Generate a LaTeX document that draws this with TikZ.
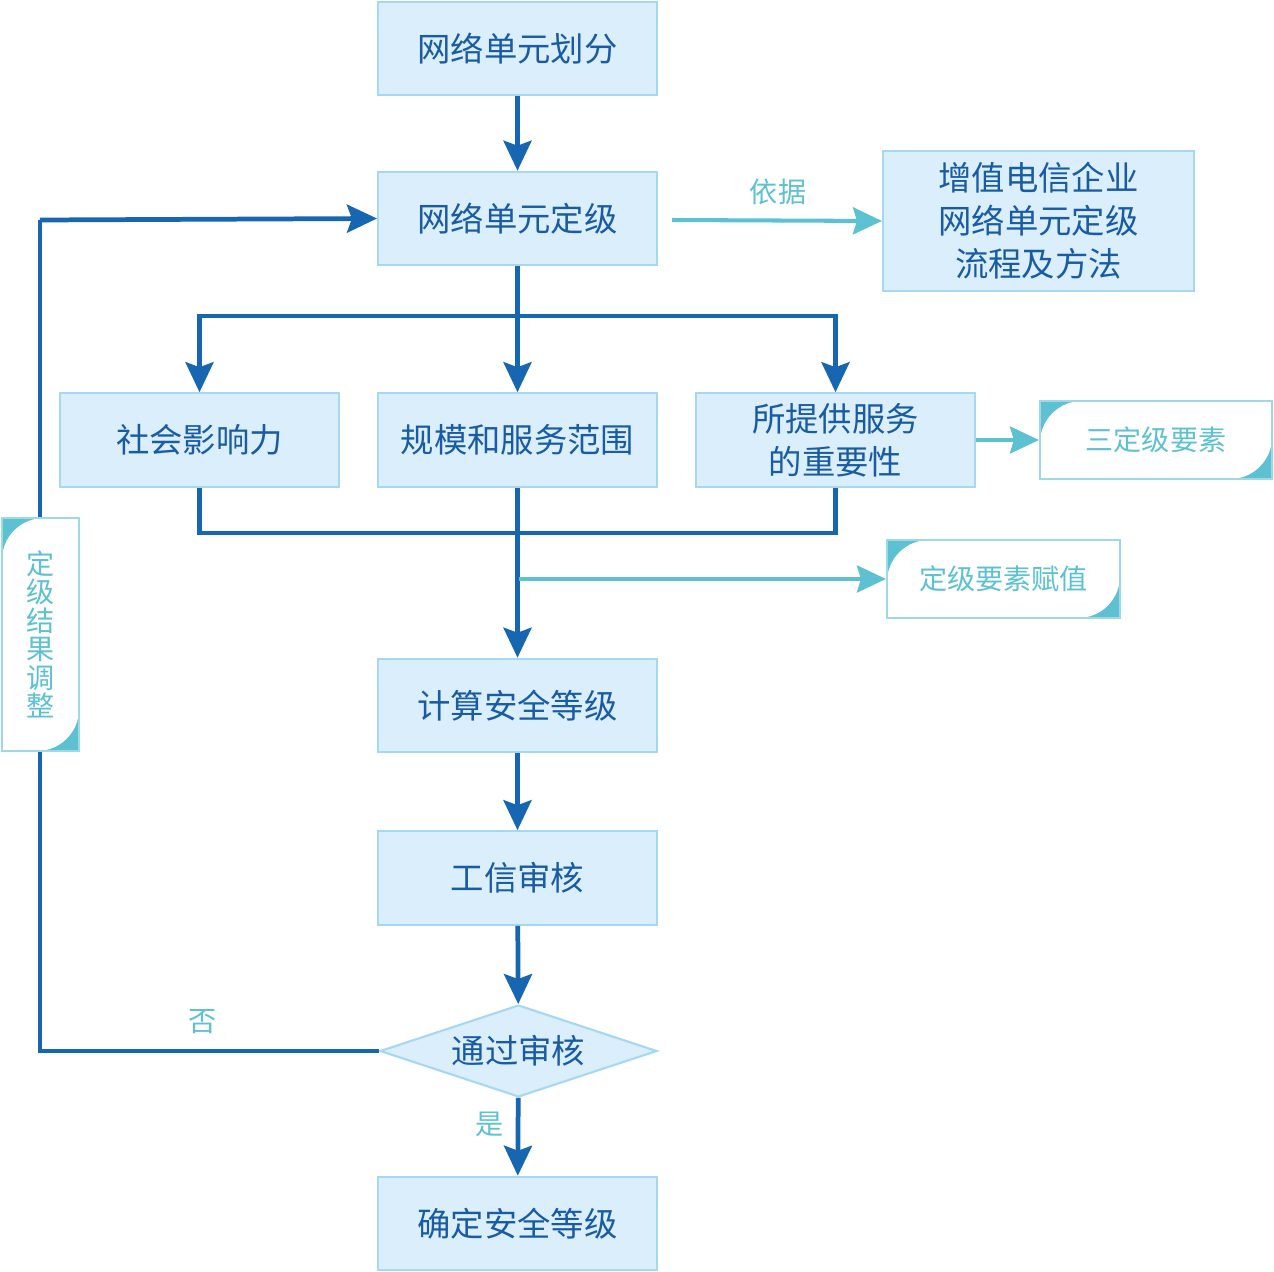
\documentclass[tikz,border=0pt]{standalone}
\usepackage{fontspec}
\setmainfont{Noto Sans CJK SC}
\usetikzlibrary{arrows.meta,shapes.geometric}
\definecolor{boxfill}{HTML}{DAEEFB}
\definecolor{boxdraw}{HTML}{A6D8F1}
\definecolor{darkline}{HTML}{1766B2}
\definecolor{darktext}{HTML}{1A5CA4}
\definecolor{tealc}{HTML}{5DC1D2}
\definecolor{tagdraw}{HTML}{9ED9E6}
\newcommand{\tagR}{0.84cm}
\tikzset{
  x=0.02cm, y=0.02cm,
  procbox/.style={rectangle, draw=boxdraw, line width=1.2pt, fill=boxfill, text=darktext,
    minimum width=5.58cm, minimum height=1.87cm, inner sep=0pt, align=center,
    font=\fontsize{19}{24.4}\selectfont},
  decbox/.style={diamond, aspect=3.01, draw=boxdraw, line width=1.2pt, fill=boxfill, text=darktext,
    minimum width=5.54cm, minimum height=1.84cm, inner sep=0pt,
    font=\fontsize{19}{24.4}\selectfont},
  tagbox/.style={rectangle, draw=tagdraw, line width=1.2pt, fill=tealc, text=tealc,
    inner sep=0pt, align=center, font=\fontsize{16}{16.2}\selectfont,
    path picture={\fill[white] (path picture bounding box.south west)
      -- ([yshift=-\tagR]path picture bounding box.north west)
      arc[start angle=180,end angle=90,radius=\tagR]
      -- (path picture bounding box.north east)
      -- ([yshift=\tagR]path picture bounding box.south east)
      arc[start angle=0,end angle=-90,radius=\tagR] -- cycle;}},
  darr/.style={draw=darkline, line width=2.7pt, -{Stealth[length=0.6cm,width=0.56cm,inset=0.1cm]}},
  dline/.style={draw=darkline, line width=2.7pt},
  tarr/.style={draw=tealc, line width=2.3pt, -{Stealth[length=0.58cm,width=0.54cm,inset=0.08cm]}},
  lab/.style={text=tealc, font=\fontsize{16}{18}\selectfont, inner sep=0pt},
}
\begin{document}
\begin{tikzpicture}
\useasboundingbox (0,0) rectangle (1274,-1271);
% nodes
\node[procbox] (hf) at (517.5,-48.5) {网络单元划分};
\node[procbox, minimum width=6.22cm, minimum height=2.8cm] (zz) at (1038.5,-221) {增值电信企业\\网络单元定级\\流程及方法};
\node[procbox] (dj) at (517.5,-218.5) {网络单元定级};
\node[procbox] (sh) at (199.5,-440) {社会影响力};
\node[procbox] (gm) at (517.5,-440) {规模和服务范围};
\node[procbox] (fw) at (835.5,-440) {所提供服务\\的重要性};
\node[tagbox, minimum width=4.64cm, minimum height=1.56cm] (sd) at (1156,-440) {三定级要素};
\node[tagbox, minimum width=4.66cm, minimum height=1.56cm] (fz) at (1003.5,-579) {定级要素赋值};
\node[procbox] (js) at (517.5,-705.5) {计算安全等级};
\node[procbox] (gx) at (517.5,-878) {工信审核};
\node[decbox] (tg) at (518.5,-1051) {通过审核};
\node[procbox] (qd) at (517.5,-1223.5) {确定安全等级};
% coordinates
\coordinate (split) at (517.5,-316);
\coordinate (join) at (517.5,-533);
\coordinate (tap) at (519,-579);
\coordinate (yj) at (672,-220);
\coordinate (lb) at (40,-1051);
\coordinate (lt) at (40,-220);
% connectors
\draw[darr] (hf) -- (dj);
\draw[darr] (dj) -- (gm);
\draw[darr] (split) -| (sh.north);
\draw[darr] (split) -| (fw.north);
\draw[dline] (sh.south) |- (join) -| (fw.south);
\draw[darr] (gm) -- (js);
\draw[tarr] (tap) -- (fz.west);
\draw[tarr] (fw.east) -- (sd.west);
\draw[tarr] (yj) -- (zz.west);
\node[lab] (yjl) at (778,-192) {依据};
\draw[darr] (js) -- (gx);
\draw[darr] (gx) -- (tg);
\draw[darr] (tg) -- (qd);
\node[lab] (shi) at (490,-1124) {是};
\draw[dline] (tg.west) -- (lb) -- (lt);
\draw[darr] (lt) -- (dj.west);
\node[lab] (fou) at (203,-1022) {否};
\node[tagbox, minimum width=1.54cm, minimum height=4.66cm] (tz) at (40.5,-634.5) {定\\级\\结\\果\\调\\整};
\end{tikzpicture}
\end{document}
